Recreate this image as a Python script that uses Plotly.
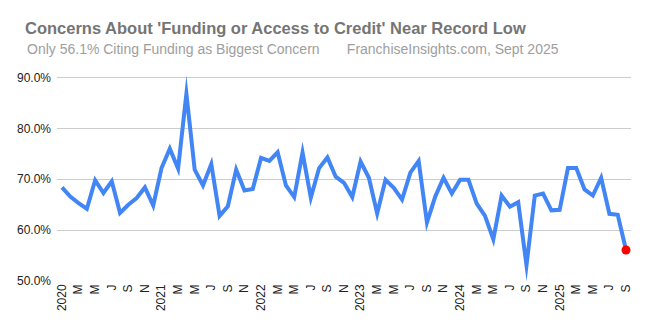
import plotly.graph_objects as go

# Monthly survey share citing "Funding or Access to Credit" (percent), Jan 2020 - Sep 2025
months = [f"{y}-{m:02d}" for y in range(2020, 2026) for m in range(1, 13)][:69]
funding_pct = [
    68.4, 66.6, 65.3, 64.2, 69.8, 67.3, 69.6, 63.4, 65.0, 66.3, 68.4, 64.85,  # 2020
    72.2, 76.0, 72.1, 86.8, 71.9, 68.8, 73.0, 62.8, 64.7, 71.9, 67.8, 68.1,   # 2021
    74.2, 73.6, 75.3, 68.8, 66.5, 75.25, 66.4, 72.2, 74.3, 70.5, 69.3, 66.5,  # 2022
    73.5, 70.3, 63.3, 69.9, 68.3, 66.0, 71.3, 73.6, 61.5, 66.6, 70.3, 67.2,   # 2023
    69.9, 69.9, 65.2, 62.8, 58.2, 66.8, 64.6, 65.5, 53.1, 66.8, 67.2, 63.9,   # 2024
    64.0, 72.2, 72.2, 68.0, 66.8, 70.3, 63.2, 63.0, 56.1,                     # 2025
]

# Axis ticks every other month; January shows the year
tick_months = months[::2]
tick_text = [m[:4] if m.endswith("-01") else "JFMAMJJASOND"[int(m[5:]) - 1] for m in tick_months]
y_ticks = [50, 60, 70, 80, 90]
y_tick_text = [f"{v:.1f}%" for v in y_ticks]

title_text = "Concerns About 'Funding or Access to Credit' Near Record Low"
subtitle_text = ("Only 56.1% Citing Funding as Biggest Concern"
                 "\u00a0\u00a0\u00a0\u00a0\u00a0\u00a0\u00a0FranchiseInsights.com, Sept 2025")

fig = go.Figure()
fig.add_trace(go.Scatter(
    x=months, y=funding_pct, mode="lines",
    line=dict(color="#4285F4", width=4),
    hoverinfo="skip", cliponaxis=False,
))
fig.add_trace(go.Scatter(
    x=[months[-1]], y=[funding_pct[-1]], mode="markers",
    marker=dict(color="#FF0000", size=9),
    hoverinfo="skip", cliponaxis=False,
))

W, H = 647, 332
L, R, T, B = 57, 16, 78, 51
Y_MIN, Y_MAX = 50, 90.5           # a little headroom so the 90% gridline is drawn
pw = W - L - R
px_per_unit = (H - T - B) / (90 - 50)
T_adj = T - (Y_MAX - 90) * px_per_unit
ph = H - T_adj - B

fig.update_layout(
    width=W, height=H,
    margin=dict(l=L, r=R, t=T_adj, b=B),
    paper_bgcolor="white", plot_bgcolor="white",
    showlegend=False,
    font=dict(family="Liberation Sans, Arial, sans-serif", color="#222"),
    title=dict(
        text=f"<b>{title_text}</b>",
        x=25 / W, xanchor="left", xref="container",
        y=1 - 28.5 / H, yanchor="middle", yref="container",
        font=dict(size=16.5, color="#757575"),
    ),
    annotations=[dict(
        text=subtitle_text, xref="paper", yref="paper",
        x=(25 - L) / pw, xanchor="left",
        y=(H - B - 50) / ph, yanchor="middle",
        showarrow=False, font=dict(size=14, color="#9e9e9e"),
    )],
    xaxis=dict(
        type="category", range=[-0.6, len(months) - 0.4],
        tickmode="array", tickvals=tick_months, ticktext=tick_text,
        tickangle=-90, tickfont=dict(size=12, color="#222"),
        showgrid=False, zeroline=False, showline=False, ticks="",
    ),
    yaxis=dict(
        range=[Y_MIN, Y_MAX], tickmode="array", tickvals=y_ticks, ticktext=y_tick_text,
        tickfont=dict(size=12, color="#222"),
        showgrid=True, gridcolor="#cccccc", gridwidth=1,
        zeroline=False, showline=False, ticks="", ticklabelstandoff=5,
    ),
)

# Sharp mitred corners on the series line
miter_js = """
var gd = document.getElementById('{plot_id}');
function sharpen() {
  gd.querySelectorAll('.scatterlayer .js-line').forEach(function (p) {
    p.style.strokeLinejoin = 'miter';
    p.style.strokeMiterlimit = '100';
  });
}
sharpen();
gd.on('plotly_afterplot', sharpen);
"""

fig.write_html("out.html", post_script=miter_js)
